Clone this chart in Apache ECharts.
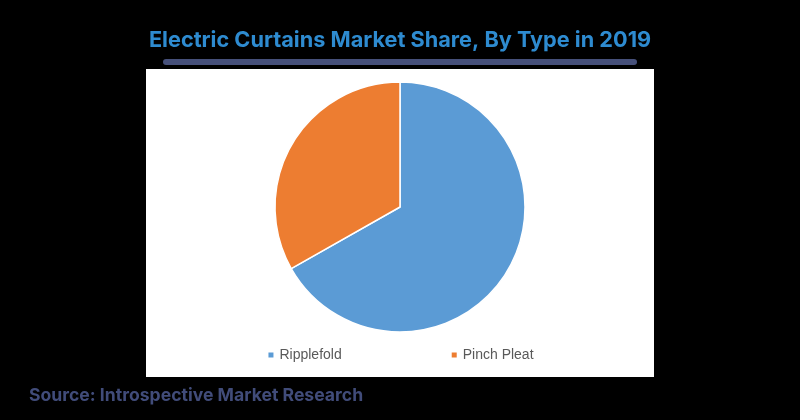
<!DOCTYPE html>
<html><head><meta charset="utf-8">
<script src="https://cdn.jsdelivr.net/npm/echarts@6/dist/echarts.min.js"></script>
<style>html,body{margin:0;padding:0;background:#000;}#c{width:800px;height:420px;}</style>
</head><body><div id="c"></div>
<script>
const categories = ["Ripplefold", "Pinch Pleat"];
const values = [66.8, 33.2];
const colors = ["#5b9bd5", "#ed7d31"];

const chart = echarts.init(document.getElementById('c'), null, {renderer: 'canvas'});
chart.setOption({
  backgroundColor: '#000000',
  animation: false,
  title: [{
    text: 'Electric Curtains Market Share, By Type in 2019',
    left: 'center', top: 24,
    textStyle: {color: '#2e8bd0', fontSize: 21.7, fontWeight: 'bold', fontFamily: 'Inter'}
  }, {
    text: 'Source: Introspective Market Research',
    left: 24, top: 382,
    textStyle: {color: '#414c7a', fontSize: 17.6, fontWeight: 'bold', fontFamily: 'Inter'}
  }],
  graphic: [
    {type: 'rect', z: 0, shape: {x: 163, y: 59, width: 474, height: 6, r: 3}, style: {fill: '#46507a'}},
    {type: 'rect', z: 0, shape: {x: 146, y: 69, width: 508, height: 308}, style: {fill: '#ffffff'}}
  ],
  legend: {
    data: categories,
    bottom: 53, left: 'center',
    itemWidth: 7, itemHeight: 7, itemGap: 108, icon: 'rect',
    textStyle: {color: '#595959', fontSize: 14, fontFamily: 'Liberation Sans'}
  },
  series: [{
    type: 'pie',
    center: [400, 207], radius: 125,
    startAngle: 90, clockwise: true,
    label: {show: false}, labelLine: {show: false},
    itemStyle: {borderColor: '#ffffff', borderWidth: 1.5},
    data: categories.map((c, i) => ({name: c, value: values[i], itemStyle: {color: colors[i]}}))
  }]
});
</script></body></html>
